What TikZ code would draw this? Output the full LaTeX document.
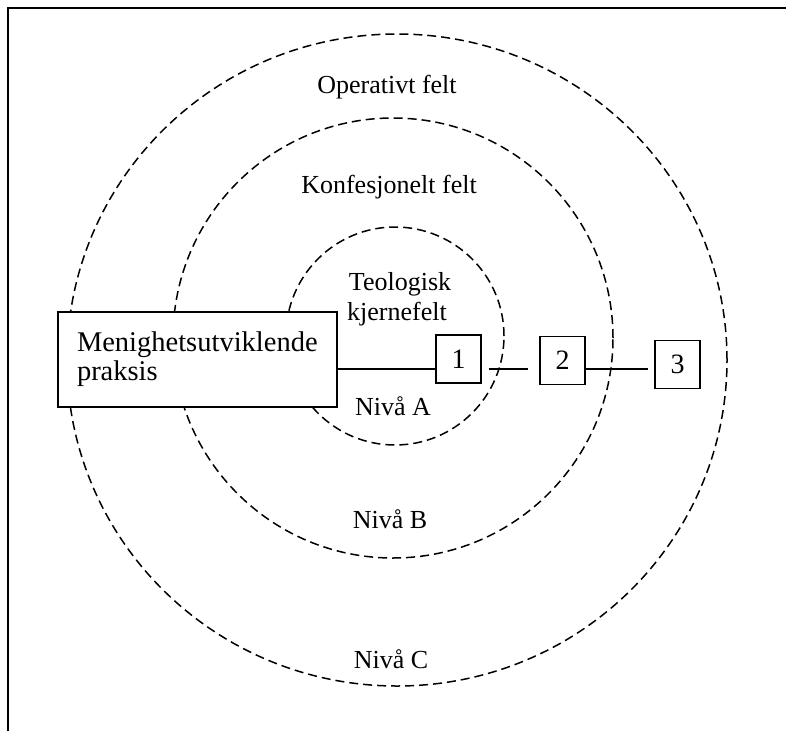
\documentclass[tikz,border=0pt]{standalone}
\usepackage{fontspec}
\setmainfont{Liberation Serif}
\begin{document}
\begin{tikzpicture}[x=1pt,y=-1pt,
  ring/.style={draw, line width=1.5pt, dash pattern=on 9pt off 5pt},
  lab/.style={font=\fontsize{26}{30}\selectfont, anchor=base, inner sep=0pt},
  numbox/.style={draw, line width=1.4pt, fill=white, minimum width=45pt, minimum height=48pt, inner sep=0pt, font=\fontsize{28}{30}\selectfont},
  mainbox/.style={draw, line width=1.4pt, fill=white, minimum width=279pt, minimum height=95pt, text width=241pt, align=left, inner xsep=19pt, font=\fontsize{28.5}{29}\selectfont},
  conn/.style={line width=1.4pt}]
\useasboundingbox (0,0) rectangle (786,731);
% frame
\draw[line width=1.8pt] (8,731) -- (8,8) -- (786,8);
% rings
\draw[ring] (397,360) ellipse [x radius=330pt, y radius=326pt];
\draw[ring] (393,338) ellipse [x radius=220pt, y radius=220pt];
\draw[ring] (395,336) ellipse [x radius=109pt, y radius=109pt];
% labels
\node[lab] (op) at (387,93) {Operativt felt};
\node[lab] (kf) at (389,193) {Konfesjonelt felt};
\node[lab] (te) at (400,290) {Teologisk};
\node[lab] (kj) at (397,320) {kjernefelt};
\node[lab] (na) at (393,415) {Nivå A};
\node[lab] (nb) at (390,528) {Nivå B};
\node[lab] (nc) at (391,668) {Nivå C};
% boxes
\node[mainbox] (m) at (197.5,359.5) {Menighetsutviklende\\praksis};
\node[numbox] (b1) at (458.5,359) {1};
\node[numbox] (b2) at (562.5,360.5) {2};
\node[numbox] (b3) at (677.5,364.5) {3};
% connectors
\coordinate (ly) at (0,369);
\draw[conn] (m.east |- ly) -- (b1.west |- ly);
\draw[conn, shorten <=7pt, shorten >=11pt] (b1.east |- ly) -- (b2.west |- ly);
\draw[conn, shorten >=6pt] (b2.east |- ly) -- (b3.west |- ly);
\end{tikzpicture}
\end{document}
